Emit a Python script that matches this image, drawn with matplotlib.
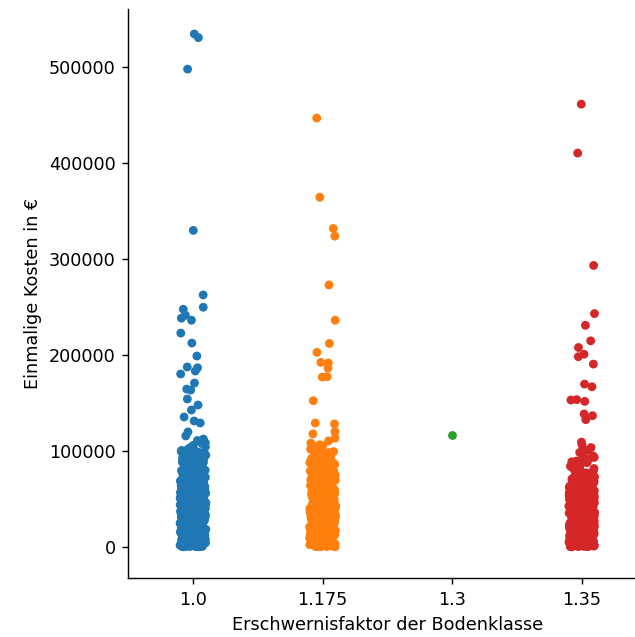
import numpy as np
import pandas as pd
import matplotlib
matplotlib.use("Agg")
import matplotlib.pyplot as plt
import seaborn as sns

categories = ["1.0", "1.175", "1.3", "1.35"]
colors = ["#1f77b4", "#ff7f0e", "#2ca02c", "#d62728"]

# values in k€
blue_outliers = [534.0, 530.2, 497.4, 329.5, 262.3, 249.5, 247.4, 241.2, 238.1, 236.0,
                 222.6, 212.2, 198.7, 187.3, 186.5, 183.1, 180.0, 170.6, 164.3, 163.3,
                 154.0, 147.7, 142.5, 135.2, 131.1, 129.0, 119.7, 115.5,
                 103.2, 106.9, 108.4, 110.8, 112.3, 107.5]
blue_dense = [
    0.3, 1.1, 2.4, 0.8, 3.6, 5.2, 1.9, 4.4, 6.8, 2.7, 7.5, 0.5, 8.9, 3.1, 9.6, 10.4, 1.4, 11.7, 5.9, 12.3,
    13.8, 2.2, 14.5, 6.3, 15.9, 0.9, 16.6, 7.1, 17.4, 4.8, 18.2, 19.7, 3.3, 20.5, 8.4, 21.3, 22.8, 1.6, 23.6, 9.2,
    24.1, 25.7, 6.1, 26.4, 27.9, 10.8, 28.5, 2.9, 29.3, 30.6, 12.9, 31.2, 32.8, 5.5, 33.5, 34.9, 14.2, 35.4, 36.7, 0.2,
    37.3, 38.8, 15.3, 39.6, 40.2, 8.1, 41.7, 42.5, 17.9, 43.1, 44.6, 3.9, 45.8, 46.3, 19.1, 47.9, 48.4, 11.2, 49.7, 50.3,
    51.6, 20.9, 52.2, 53.8, 7.7, 54.5, 55.1, 23.2, 56.7, 57.4, 13.4, 58.9, 59.5, 26.8, 60.8, 61.4, 4.1, 62.7, 63.3, 29.8,
    64.9, 65.6, 16.2, 66.2, 67.8, 31.9, 68.4, 69.1, 9.9, 70.7, 71.3, 34.1, 72.6, 73.2, 18.7, 74.8, 75.5, 38.2, 76.1, 77.6,
    78.3, 22.1, 79.9, 80.4, 41.3, 81.8, 82.5, 6.6, 83.1, 84.7, 44.9, 85.3, 86.9, 25.2, 87.4, 88.6, 47.2, 89.2, 90.8, 14.8,
    91.5, 92.1, 50.9, 93.7, 94.3, 28.1, 95.8, 96.4, 53.1, 97.2, 98.6, 11.9, 99.3, 100.4, 56.2, 101.8, 102.7, 33.1, 104.1, 105.6,
    0.7, 1.8, 2.6, 3.4, 4.6, 5.7, 6.4, 7.9, 8.6, 9.4, 10.1, 11.5, 12.7, 13.1, 14.9, 15.6, 16.9, 17.2, 18.8, 19.3,
    20.2, 21.8, 22.4, 23.9, 24.7, 25.3, 26.1, 27.2, 28.9, 29.6, 30.1, 31.8, 32.3, 33.9, 34.4, 35.8, 36.2, 37.9, 38.5, 39.1,
    40.8, 41.2, 42.9, 43.6, 44.1, 45.2, 46.8, 47.4, 48.9, 49.2, 50.7, 51.1, 52.8, 53.4, 54.9, 55.7, 56.3, 57.8, 58.2, 59.9,
    60.3, 61.9, 62.1, 63.8, 64.2, 65.1, 66.9, 67.3, 68.8, 69.6, 70.2, 71.9, 72.1, 73.7, 74.3, 75.9, 76.8, 77.2, 78.9, 79.4,
    80.9, 81.3, 82.9, 83.8, 84.2, 85.9, 86.3, 87.9, 88.1, 89.7, 90.2, 91.9, 92.8, 93.1, 94.8, 95.2, 96.9, 97.8, 98.1, 99.8,
    0.1, 0.4, 1.3, 2.1, 2.8, 3.7, 4.2, 4.9, 5.4, 6.2, 7.3, 8.2, 9.1, 10.7, 11.3, 12.1, 13.5, 14.1, 15.2, 16.3,
]
blue_dense_2 = [
    0.6, 1.7, 2.9, 3.2, 4.3, 5.8, 6.7, 7.2, 8.5, 9.3, 10.9, 11.4, 12.6, 13.3, 14.4, 15.1, 16.7, 17.8, 18.3, 19.6,
    20.7, 21.4, 22.6, 23.3, 24.5, 25.8, 26.6, 27.4, 28.2, 29.1, 30.8, 31.5, 32.6, 33.2, 34.7, 35.6, 36.4, 37.6, 38.2, 39.8,
    40.5, 41.4, 42.1, 43.8, 44.8, 45.5, 46.2, 47.6, 48.1, 49.5, 50.2, 51.8, 52.5, 53.1, 54.3, 55.4, 56.8, 57.2, 58.6, 59.3,
    60.5, 61.2, 62.4, 63.6, 64.6, 65.8, 66.5, 67.5, 68.6, 69.3, 70.5, 71.6, 72.4, 73.4, 74.6, 75.3, 76.5, 77.9, 78.6, 79.7,
    80.6, 81.5, 82.2, 83.5, 84.9, 85.6, 86.5, 87.2, 88.9, 89.5, 90.6, 91.2, 92.5, 93.4, 94.6, 95.5, 96.2, 97.5, 98.4, 99.1,
    0.9, 2.3, 3.8, 5.1, 6.9, 8.3, 9.7, 11.2, 12.5, 14.6, 16.1, 17.6, 19.4, 20.9, 22.2, 23.8, 25.6, 27.1, 28.7, 30.3,
    31.9, 33.6, 35.1, 36.8, 38.6, 40.1, 41.6, 43.2, 44.9, 46.6, 48.3, 49.8, 51.4, 53.9, 55.6, 57.5, 59.1, 61.1, 63.1, 64.4,
    66.3, 68.1, 70.1, 72.3, 74.1, 76.3, 78.1, 80.1, 82.1, 84.1, 86.1, 88.3, 90.1, 92.3, 94.1, 96.1, 98.3, 0.2, 0.5, 1.2,
    1.6, 2.5, 3.5, 4.5, 5.6, 6.5, 7.6, 8.7, 9.5, 10.5, 11.8, 12.4, 13.9, 14.8, 15.3, 16.4, 17.5, 18.6, 19.9, 20.4,
    21.6, 22.7, 23.5, 24.9, 25.2, 26.3, 27.5, 28.4, 29.8, 30.5, 31.4, 32.9, 33.6, 34.5, 35.3, 36.5, 37.1, 38.4, 39.5, 40.6,
    41.8, 42.4, 43.4, 44.5, 45.6, 46.4, 47.5, 48.7, 49.6, 50.4, 51.5, 52.6, 53.5, 54.4, 55.9, 56.5, 57.6, 58.4, 59.6, 60.9,
]

orange_outliers = [446.5, 364.0, 331.5, 323.5, 272.7, 236.0, 211.8, 202.5, 192.1, 191.5,
                   186.2, 177.2, 176.8, 152.2, 128.0, 129.0, 120.0, 117.7, 113.2]
orange_dense = [
    0.2, 1.5, 2.3, 0.6, 3.8, 4.7, 1.2, 5.6, 6.9, 2.5, 7.4, 8.8, 3.2, 9.5, 10.3, 0.9, 11.6, 12.8, 4.4, 13.2,
    14.7, 5.1, 15.4, 16.9, 6.7, 17.3, 18.6, 2.8, 19.2, 20.8, 7.8, 21.5, 22.1, 8.3, 23.7, 24.4, 1.7, 25.9, 26.2, 9.9,
    27.6, 28.3, 10.6, 29.8, 30.4, 3.6, 31.7, 32.2, 11.9, 33.8, 34.5, 12.4, 35.1, 36.6, 5.8, 37.2, 38.9, 13.7, 39.3, 40.7,
    41.4, 14.6, 42.8, 43.3, 6.2, 44.9, 45.6, 15.8, 46.1, 47.7, 16.4, 48.2, 49.8, 0.4, 50.5, 51.9, 17.7, 52.4, 53.6, 18.9,
    54.2, 55.8, 7.1, 56.3, 57.9, 19.6, 58.4, 59.7, 20.3, 60.1, 61.8, 4.9, 62.4, 63.9, 21.9, 64.3, 65.7, 22.6, 66.5, 67.1,
    68.8, 8.7, 69.4, 70.6, 23.4, 71.2, 72.9, 24.8, 73.5, 74.1, 9.3, 75.8, 76.4, 25.5, 77.7, 78.2, 26.7, 79.6, 80.3, 2.1,
    81.9, 82.4, 27.9, 83.7, 84.6, 28.8, 85.2, 86.8, 10.2, 87.3, 88.5, 29.2, 89.9, 91.4, 30.9, 92.7, 94.2, 11.4, 95.6, 97.1,
    98.8, 31.3, 100.5, 102.6, 32.7, 104.9, 106.3, 12.7, 108.1, 33.4, 34.8, 35.6, 36.1, 37.8, 38.3, 39.9, 40.2, 41.8, 42.3, 43.9,
    44.4, 45.1, 46.7, 47.3, 48.6, 49.1, 50.9, 51.3, 52.8, 53.2, 54.7, 55.3, 56.9, 57.1, 58.8, 59.2, 60.7, 61.2, 62.9, 63.4,
    1.1, 3.3, 5.3, 6.4, 8.1, 9.7, 11.1, 12.2, 14.3, 15.9, 16.1, 17.9, 19.8, 20.1, 21.1, 22.9, 23.1, 24.9, 25.1, 26.9,
    64.8, 66.2, 67.8, 69.9, 71.7, 73.1, 74.8, 76.9, 78.8, 80.9, 83.1, 85.8, 87.9, 90.2, 93.3, 96.4, 99.2, 101.7, 105.2, 110.3,
]
orange_dense_2 = [
    0.7, 1.9, 2.7, 3.5, 4.2, 5.9, 6.3, 7.7, 8.4, 9.2, 10.8, 11.3, 12.5, 13.8, 14.1, 15.7, 16.6, 17.4, 18.3, 19.4,
    20.6, 21.7, 22.4, 23.5, 24.1, 25.6, 26.4, 27.3, 28.6, 29.5, 30.2, 31.4, 32.9, 33.6, 34.2, 35.8, 36.3, 37.5, 38.6, 39.7,
    40.5, 41.1, 42.6, 43.7, 44.2, 45.3, 46.4, 47.1, 48.8, 49.5, 50.3, 51.6, 52.1, 53.8, 54.5, 55.6, 56.1, 57.4, 58.3, 59.6,
    60.4, 61.5, 62.2, 63.7, 64.5, 65.3, 66.8, 67.5, 68.3, 69.6, 70.2, 71.5, 72.3, 73.8, 74.6, 75.2, 76.7, 77.3, 78.5, 79.2,
    80.7, 81.4, 82.8, 83.2, 84.3, 85.5, 86.3, 87.6, 88.2, 89.4, 0.1, 0.8, 1.4, 2.6, 3.6, 4.5, 5.4, 6.6, 7.2, 8.5,
    9.1, 10.6, 11.7, 12.3, 13.5, 14.4, 15.2, 16.8, 17.1, 18.4, 19.5, 20.4, 21.3, 22.7, 23.3, 24.6, 25.4, 26.5, 27.1, 28.4,
    29.6, 30.7, 31.2, 32.5, 33.1, 34.6, 35.4, 36.2, 37.6, 38.5, 39.4, 40.1, 41.6, 42.5, 43.6, 44.3, 45.8, 46.9, 47.6, 48.4,
    49.3, 50.2, 51.5, 52.6, 53.3, 54.8, 55.1, 56.6, 57.5, 58.6, 59.4, 60.5, 61.4, 62.6, 63.2, 64.6, 65.4, 66.3, 67.4, 68.5,
    69.2, 70.8, 71.6, 72.5, 73.3, 74.4, 75.5, 76.2, 77.4, 78.6, 79.9, 81.2, 82.6, 84.4, 86.2, 88.8, 91.1, 92.4, 94.6, 96.8,
]
orange_dense_3 = [
    0.3, 1.6, 2.9, 4.1, 5.2, 6.8, 7.9, 9.4, 10.1, 11.8, 13.1, 14.9, 16.2, 17.6, 18.8, 20.2, 21.9, 23.6, 24.2, 25.7,
    27.4, 28.9, 30.6, 31.9, 33.3, 34.9, 36.8, 37.4, 39.1, 40.9, 42.1, 43.4, 45.2, 46.6, 48.1, 49.7, 51.1, 52.9, 54.1, 55.9,
    57.3, 58.9, 60.2, 61.7, 63.6, 64.1, 65.9, 67.2, 68.9, 70.4, 71.9, 73.6, 75.1, 76.6, 77.8, 79.4, 80.2, 81.7, 83.6, 85.1,
    86.6, 87.8, 89.1, 90.7, 92.1, 93.8, 95.1, 97.6, 98.2, 99.7,
]

green_values = [117.0]

red_outliers = [460.9, 410.0, 293.0, 242.9, 230.7, 214.5, 207.6, 200.6, 198.0, 190.3,
                169.5, 166.7, 151.5, 152.9, 153.3, 138.4, 136.6, 132.5]
red_dense = [
    0.3, 1.4, 2.6, 0.8, 3.3, 4.9, 1.7, 5.2, 6.6, 2.2, 7.8, 8.4, 3.9, 9.1, 10.7, 0.5, 11.3, 12.9, 4.5, 13.6,
    14.2, 5.7, 15.8, 16.3, 6.1, 17.9, 18.4, 2.9, 19.5, 20.2, 7.2, 21.7, 22.5, 8.8, 23.1, 24.6, 1.2, 25.3, 26.8, 9.4,
    27.2, 28.7, 10.1, 29.4, 30.9, 3.5, 31.1, 32.6, 11.8, 33.2, 34.8, 12.3, 35.7, 36.3, 5.4, 37.9, 38.1, 13.9, 39.6, 40.4,
    41.9, 14.7, 42.2, 43.7, 6.8, 44.3, 45.9, 15.1, 46.5, 47.2, 16.6, 48.8, 49.4, 0.1, 50.7, 51.2, 17.3, 52.9, 53.1, 18.2,
    54.6, 55.2, 7.6, 56.8, 57.3, 19.9, 58.7, 59.1, 20.8, 60.6, 61.3, 4.2, 62.8, 63.5, 21.4, 64.1, 65.9, 22.7, 66.4, 67.6,
    68.2, 8.3, 69.7, 70.3, 23.8, 0.6, 1.9, 2.4, 3.1, 4.6, 5.9, 6.3, 7.4, 8.9, 9.8, 10.4, 11.6, 12.1, 13.3, 14.9,
    15.4, 16.2, 17.7, 18.9, 19.2, 20.6, 21.1, 22.3, 23.4, 24.2, 25.9, 26.1, 27.8, 28.3, 29.9, 30.2, 31.7, 32.4, 33.8, 34.1,
    35.2, 36.9, 37.4, 38.8, 39.2, 40.9, 41.3, 42.8, 43.1, 44.7, 45.4, 46.1, 47.8, 48.3, 49.9, 50.1, 51.8, 52.3, 53.7, 54.2,
    55.8, 56.4, 57.9, 58.2, 59.8, 60.1, 61.9, 62.2, 63.8, 64.7, 65.3, 66.9, 67.1, 68.9, 69.2, 71.4, 72.8, 74.5, 76.1, 77.9,
    79.3, 81.6, 83.2, 85.7, 87.1, 89.4, 91.8, 93.2, 95.9, 98.3, 100.7, 103.4, 106.2, 109.1, 73.6, 78.4, 84.1, 88.6, 94.7, 99.5,
]
red_dense_2 = [
    0.4, 1.1, 2.1, 3.6, 4.1, 5.5, 6.4, 7.1, 8.6, 9.3, 10.2, 11.9, 12.6, 13.1, 14.4, 15.6, 16.9, 17.2, 18.6, 19.7,
    20.4, 21.9, 22.1, 23.6, 24.4, 25.1, 26.5, 27.6, 28.4, 29.2, 30.6, 31.4, 32.1, 33.5, 34.3, 35.9, 36.6, 37.2, 38.6, 39.4,
    40.1, 41.5, 42.6, 43.4, 44.1, 45.6, 46.3, 47.5, 48.1, 49.6, 50.4, 51.5, 52.6, 53.4, 54.5, 55.6, 56.2, 57.6, 58.4, 59.5,
    60.4, 61.6, 62.5, 63.2, 64.4, 65.6, 66.1, 67.4, 68.6, 69.5, 0.2, 0.9, 1.6, 2.8, 3.4, 4.3, 5.1, 6.9, 7.7, 8.1,
    9.6, 10.9, 11.1, 12.4, 13.8, 14.6, 15.2, 16.4, 17.5, 18.1, 19.1, 20.9, 21.2, 22.9, 23.2, 24.8, 25.6, 26.3, 27.4, 28.9,
    29.6, 30.4, 31.9, 32.8, 33.4, 34.6, 35.5, 36.1, 37.6, 38.4, 39.8, 40.6, 41.1, 42.4, 43.9, 44.5, 45.2, 46.8, 47.4, 48.6,
    49.2, 50.9, 51.1, 52.4, 53.9, 54.8, 55.4, 56.6, 57.2, 58.9, 59.3, 60.8, 61.1, 62.4, 63.1, 64.9, 65.1, 66.6, 67.9, 68.4,
    1.3, 3.8, 6.2, 9.2, 12.7, 16.1, 19.8, 23.9, 27.1, 30.1, 33.9, 37.1, 40.7, 44.9, 48.9, 52.1, 56.9, 60.2, 63.9, 67.2,
    70.8, 72.1, 73.1, 75.2, 76.8, 78.9, 80.4, 82.7, 86.4, 90.6,
]
red_dense_3 = [
    0.7, 1.8, 3.2, 4.4, 5.8, 7.3, 8.7, 10.3, 11.4, 12.8, 14.1, 15.9, 17.1, 18.3, 19.6, 21.4, 22.8, 24.1, 25.5, 26.9,
    28.1, 29.8, 31.2, 32.9, 34.4, 35.8, 37.3, 38.9, 40.3, 41.7, 43.3, 44.8, 46.2, 47.9, 49.1, 50.6, 52.2, 53.6, 55.1, 56.7,
    58.1, 59.6, 61.4, 62.9, 64.3, 65.8, 67.3, 68.8, 70.1, 71.8, 74.2, 77.1, 79.8, 83.9, 87.7,
]

groups = {
    "1.0": blue_outliers + blue_dense + blue_dense_2,
    "1.175": orange_outliers + orange_dense + orange_dense_2 + orange_dense_3,
    "1.3": green_values,
    "1.35": red_outliers + red_dense + red_dense_2 + red_dense_3,
}
rows = []
for cat in categories:
    for v in groups[cat]:
        rows.append((cat, v * 1000))
df = pd.DataFrame(rows, columns=["Erschwernisfaktor der Bodenklasse", "Einmalige Kosten in €"])

plt.rcParams["font.family"] = ["DejaVu Sans"]
plt.rcParams["font.size"] = 10

fig = plt.figure(figsize=(635 / 127, 637 / 127), dpi=127)
ax = fig.add_axes([128.2 / 635, 58.7 / 637, (646.5 - 128.2) / 635, (578.3 - 9) / 637])

np.random.seed(3)
sns.stripplot(data=df, x="Erschwernisfaktor der Bodenklasse", y="Einmalige Kosten in €",
              hue="Erschwernisfaktor der Bodenklasse", order=categories, hue_order=categories,
              palette=colors, jitter=True, size=5, linewidth=0, legend=False, ax=ax)

ax.set_xlim(-0.5, 3.5)
ax.set_ylim(-32700, 560000)
ax.set_yticks([0, 100000, 200000, 300000, 400000, 500000])
ax.set_yticklabels(["0", "100000", "200000", "300000", "400000", "500000"])
for s in ["top", "right"]:
    ax.spines[s].set_visible(False)

fig.savefig("out.png", dpi=127)
